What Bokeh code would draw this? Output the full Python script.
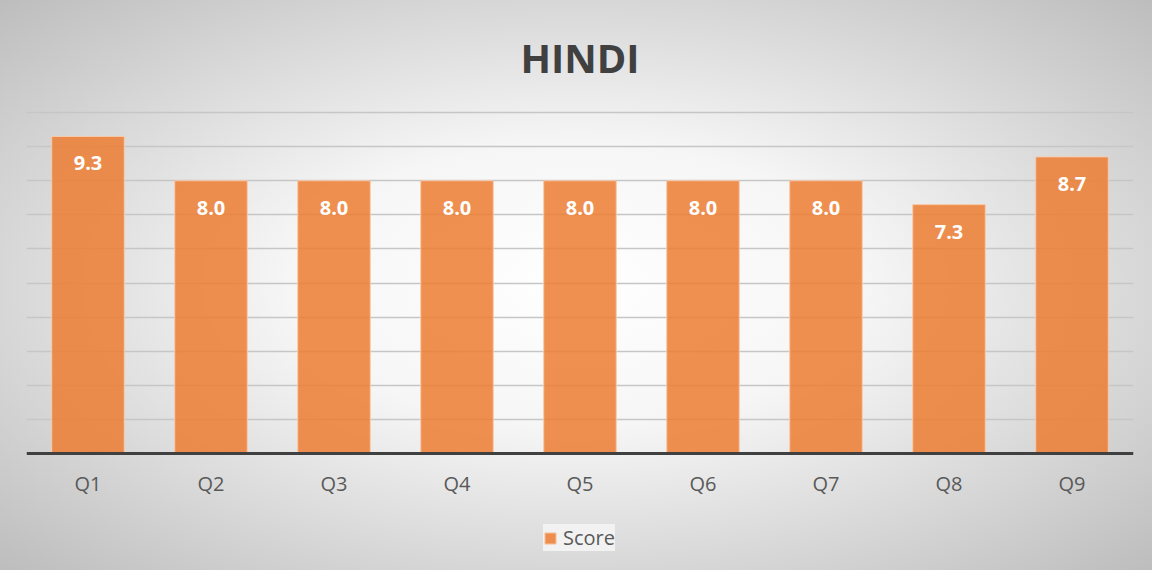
from bokeh.plotting import figure
from bokeh.models import ColumnDataSource, Legend, LegendItem, FixedTicker
from bokeh.core.properties import value
from bokeh.embed import file_html
from bokeh.resources import INLINE

categories = ["Q1", "Q2", "Q3", "Q4", "Q5", "Q6", "Q7", "Q8", "Q9"]
scores = [9.3, 8.0, 8.0, 8.0, 8.0, 8.0, 8.0, 7.3, 8.7]
title_text = "HINDI"
series_name = "Score"

src = ColumnDataSource(dict(
    cat=categories,
    score=scores,
    label=[f"{v:.1f}" for v in scores],
))

p = figure(
    x_range=categories, y_range=(-3.43, 10.06),
    frame_width=1107, frame_height=460,
    output_backend="svg", toolbar_location=None,
    min_border_left=26, min_border_right=19, min_border_top=110, min_border_bottom=0,
)
p.styles = {
    "background": "radial-gradient(ellipse farthest-corner at 50% 50%, #ffffff 0%, #f6f6f6 35%, #bdbdbd 100%)",
}
p.background_fill_alpha = 0
p.border_fill_alpha = 0
p.outline_line_color = None

p.title.text = title_text
p.title.align = "center"
p.title.text_font = "Open Sans"
p.title.text_font_size = "40px"
p.title.text_font_style = "bold"
p.title.text_color = "#404040"
p.title.standoff = 52

r = p.vbar(x="cat", top="score", width=0.59, source=src,
           fill_color="#ed7d31", fill_alpha=0.85,
           line_color="#f8cbad", line_width=1)

p.text(x="cat", y="score", text="label", source=src,
       text_align="center", text_baseline="middle", y_offset=27,
       text_color="white", text_font=value("Open Sans"),
       text_font_style="bold", text_font_size="20px")

p.yaxis.visible = False
p.ygrid.ticker = FixedTicker(ticks=[1, 2, 3, 4, 5, 6, 7, 8, 9, 10])
p.ygrid.grid_line_color = "#c6c6c6"
p.ygrid.grid_line_width = 1.5
p.xgrid.grid_line_color = None

ax = p.xaxis[0]
ax.fixed_location = 0
ax.axis_line_color = "#404040"
ax.axis_line_width = 3
ax.major_tick_line_color = None
ax.minor_tick_line_color = None
ax.major_label_text_font = "Open Sans"
ax.major_label_text_font_size = "20px"
ax.major_label_text_color = "#595959"
ax.major_label_standoff = 10

legend = Legend(items=[LegendItem(label=series_name, renderers=[r])],
                location=(517, 19), orientation="horizontal",
                background_fill_color="#f2f2f2", background_fill_alpha=1,
                border_line_color=None,
                label_text_font="Open Sans", label_text_font_size="20px",
                label_text_color="#595959",
                glyph_width=14, glyph_height=14,
                padding=12, margin=0, spacing=6, label_standoff=6)
p.add_layout(legend, "center")

open("out.html", "w").write(file_html(p, INLINE))
